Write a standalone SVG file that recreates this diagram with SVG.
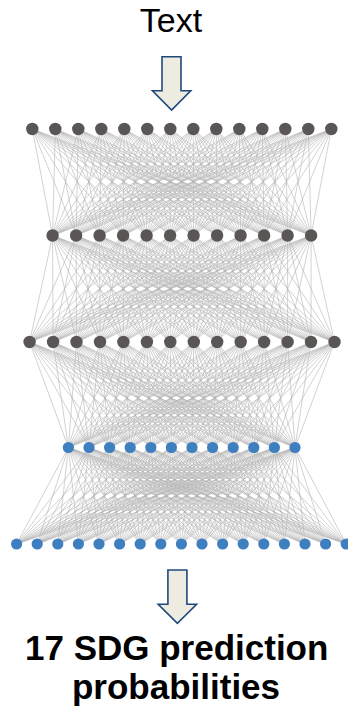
<svg xmlns="http://www.w3.org/2000/svg" width="348" height="710" viewBox="0 0 348 710">
<style>
.e{fill:none;stroke:#b4b4b4;stroke-width:0.6;stroke-linejoin:round;vector-effect:non-scaling-stroke}
.g{fill:#5a5656}
.b{fill:#3e7fc0}
.arr{fill:#eeece1;stroke:#1f497d;stroke-width:1.6;stroke-linejoin:miter}
.t{font-family:"Liberation Sans",Arial,sans-serif;fill:#000;text-anchor:middle}
</style>
<rect width="348" height="710" fill="#fff"/>
<text class="t" x="171" y="31.7" font-size="34">Text</text>
<polygon class="arr" points="162,56.7 181,56.7 181,90.7 190.7,90.7 171.6,110 152.5,90.7 162,90.7"/>
<g id="connectors">
<path class="e" transform="translate(0,129) scale(1,106.5)" d="M32.3 0L52.6 1 55.3 0 76.1 1 32.3 0 99.6 1 55.3 0 123.1 1 32.3 0 146.6 1 55.3 0 170.1 1 32.3 0 193.6 1 55.3 0 217.1 1 32.3 0 240.6 1 55.3 0 264.1 1 32.3 0 287.6 1 55.3 0 311.1 1 32.3 0
M78.3 0L52.6 1 101.3 0 76.1 1 78.3 0 99.6 1 101.3 0 123.1 1 78.3 0 146.6 1 101.3 0 170.1 1 78.3 0 193.6 1 101.3 0 217.1 1 78.3 0 240.6 1 101.3 0 264.1 1 78.3 0 287.6 1 101.3 0 311.1 1 78.3 0
M124.3 0L52.6 1 147.3 0 76.1 1 124.3 0 99.6 1 147.3 0 123.1 1 124.3 0 146.6 1 147.3 0 170.1 1 124.3 0 193.6 1 147.3 0 217.1 1 124.3 0 240.6 1 147.3 0 264.1 1 124.3 0 287.6 1 147.3 0 311.1 1 124.3 0
M170.3 0L52.6 1 193.3 0 76.1 1 170.3 0 99.6 1 193.3 0 123.1 1 170.3 0 146.6 1 193.3 0 170.1 1 170.3 0 193.6 1 193.3 0 217.1 1 170.3 0 240.6 1 193.3 0 264.1 1 170.3 0 287.6 1 193.3 0 311.1 1 170.3 0
M216.3 0L52.6 1 239.3 0 76.1 1 216.3 0 99.6 1 239.3 0 123.1 1 216.3 0 146.6 1 239.3 0 170.1 1 216.3 0 193.6 1 239.3 0 217.1 1 216.3 0 240.6 1 239.3 0 264.1 1 216.3 0 287.6 1 239.3 0 311.1 1 216.3 0
M262.3 0L52.6 1 285.3 0 76.1 1 262.3 0 99.6 1 285.3 0 123.1 1 262.3 0 146.6 1 285.3 0 170.1 1 262.3 0 193.6 1 285.3 0 217.1 1 262.3 0 240.6 1 285.3 0 264.1 1 262.3 0 287.6 1 285.3 0 311.1 1 262.3 0
M308.3 0L52.6 1 331.3 0 76.1 1 308.3 0 99.6 1 331.3 0 123.1 1 308.3 0 146.6 1 331.3 0 170.1 1 308.3 0 193.6 1 331.3 0 217.1 1 308.3 0 240.6 1 331.3 0 264.1 1 308.3 0 287.6 1 331.3 0 311.1 1 308.3 0"/>
<path class="e" transform="translate(0,235.5) scale(1,106.5)" d="M52.6 0L29.6 1 76.1 0 53.1 1 52.6 0 76.5 1 76.1 0 100 1 52.6 0 123.4 1 76.1 0 146.9 1 52.6 0 170.3 1 76.1 0 193.8 1 52.6 0 217.2 1 76.1 0 240.7 1 52.6 0 264.1 1 76.1 0 287.6 1 52.6 0 311 1 76.1 0 334.5 1 52.6 0
M99.6 0L29.6 1 123.1 0 53.1 1 99.6 0 76.5 1 123.1 0 100 1 99.6 0 123.4 1 123.1 0 146.9 1 99.6 0 170.3 1 123.1 0 193.8 1 99.6 0 217.2 1 123.1 0 240.7 1 99.6 0 264.1 1 123.1 0 287.6 1 99.6 0 311 1 123.1 0 334.5 1 99.6 0
M146.6 0L29.6 1 170.1 0 53.1 1 146.6 0 76.5 1 170.1 0 100 1 146.6 0 123.4 1 170.1 0 146.9 1 146.6 0 170.3 1 170.1 0 193.8 1 146.6 0 217.2 1 170.1 0 240.7 1 146.6 0 264.1 1 170.1 0 287.6 1 146.6 0 311 1 170.1 0 334.5 1 146.6 0
M193.6 0L29.6 1 217.1 0 53.1 1 193.6 0 76.5 1 217.1 0 100 1 193.6 0 123.4 1 217.1 0 146.9 1 193.6 0 170.3 1 217.1 0 193.8 1 193.6 0 217.2 1 217.1 0 240.7 1 193.6 0 264.1 1 217.1 0 287.6 1 193.6 0 311 1 217.1 0 334.5 1 193.6 0
M240.6 0L29.6 1 264.1 0 53.1 1 240.6 0 76.5 1 264.1 0 100 1 240.6 0 123.4 1 264.1 0 146.9 1 240.6 0 170.3 1 264.1 0 193.8 1 240.6 0 217.2 1 264.1 0 240.7 1 240.6 0 264.1 1 264.1 0 287.6 1 240.6 0 311 1 264.1 0 334.5 1 240.6 0
M287.6 0L29.6 1 311.1 0 53.1 1 287.6 0 76.5 1 311.1 0 100 1 287.6 0 123.4 1 311.1 0 146.9 1 287.6 0 170.3 1 311.1 0 193.8 1 287.6 0 217.2 1 311.1 0 240.7 1 287.6 0 264.1 1 311.1 0 287.6 1 287.6 0 311 1 311.1 0 334.5 1 287.6 0"/>
<path class="e" transform="translate(0,342) scale(1,105.5)" d="M29.6 0L68.4 1 53.1 0 89 1 29.6 0 109.6 1 53.1 0 130.2 1 29.6 0 150.8 1 53.1 0 171.4 1 29.6 0 192 1 53.1 0 212.6 1 29.6 0 233.2 1 53.1 0 253.8 1 29.6 0 274.4 1 53.1 0 295 1 29.6 0
M76.5 0L68.4 1 100 0 89 1 76.5 0 109.6 1 100 0 130.2 1 76.5 0 150.8 1 100 0 171.4 1 76.5 0 192 1 100 0 212.6 1 76.5 0 233.2 1 100 0 253.8 1 76.5 0 274.4 1 100 0 295 1 76.5 0
M123.4 0L68.4 1 146.9 0 89 1 123.4 0 109.6 1 146.9 0 130.2 1 123.4 0 150.8 1 146.9 0 171.4 1 123.4 0 192 1 146.9 0 212.6 1 123.4 0 233.2 1 146.9 0 253.8 1 123.4 0 274.4 1 146.9 0 295 1 123.4 0
M170.3 0L68.4 1 193.8 0 89 1 170.3 0 109.6 1 193.8 0 130.2 1 170.3 0 150.8 1 193.8 0 171.4 1 170.3 0 192 1 193.8 0 212.6 1 170.3 0 233.2 1 193.8 0 253.8 1 170.3 0 274.4 1 193.8 0 295 1 170.3 0
M217.2 0L68.4 1 240.7 0 89 1 217.2 0 109.6 1 240.7 0 130.2 1 217.2 0 150.8 1 240.7 0 171.4 1 217.2 0 192 1 240.7 0 212.6 1 217.2 0 233.2 1 240.7 0 253.8 1 217.2 0 274.4 1 240.7 0 295 1 217.2 0
M264.1 0L68.4 1 287.6 0 89 1 264.1 0 109.6 1 287.6 0 130.2 1 264.1 0 150.8 1 287.6 0 171.4 1 264.1 0 192 1 287.6 0 212.6 1 264.1 0 233.2 1 287.6 0 253.8 1 264.1 0 274.4 1 287.6 0 295 1 264.1 0
M311 0L68.4 1 334.5 0 89 1 311 0 109.6 1 334.5 0 130.2 1 311 0 150.8 1 334.5 0 171.4 1 311 0 192 1 334.5 0 212.6 1 311 0 233.2 1 334.5 0 253.8 1 311 0 274.4 1 334.5 0 295 1 311 0"/>
<path class="e" transform="translate(0,447.5) scale(1,96.5)" d="M68.4 0L16.6 1 89 0 37.2 1 68.4 0 57.8 1 89 0 78.4 1 68.4 0 99 1 89 0 119.6 1 68.4 0 140.2 1 89 0 160.8 1 68.4 0 181.4 1 89 0 202 1 68.4 0 222.6 1 89 0 243.2 1 68.4 0 263.8 1 89 0 284.4 1 68.4 0 305 1 89 0 325.6 1 68.4 0 346.2 1 89 0
M109.6 0L16.6 1 130.2 0 37.2 1 109.6 0 57.8 1 130.2 0 78.4 1 109.6 0 99 1 130.2 0 119.6 1 109.6 0 140.2 1 130.2 0 160.8 1 109.6 0 181.4 1 130.2 0 202 1 109.6 0 222.6 1 130.2 0 243.2 1 109.6 0 263.8 1 130.2 0 284.4 1 109.6 0 305 1 130.2 0 325.6 1 109.6 0 346.2 1 130.2 0
M150.8 0L16.6 1 171.4 0 37.2 1 150.8 0 57.8 1 171.4 0 78.4 1 150.8 0 99 1 171.4 0 119.6 1 150.8 0 140.2 1 171.4 0 160.8 1 150.8 0 181.4 1 171.4 0 202 1 150.8 0 222.6 1 171.4 0 243.2 1 150.8 0 263.8 1 171.4 0 284.4 1 150.8 0 305 1 171.4 0 325.6 1 150.8 0 346.2 1 171.4 0
M192 0L16.6 1 212.6 0 37.2 1 192 0 57.8 1 212.6 0 78.4 1 192 0 99 1 212.6 0 119.6 1 192 0 140.2 1 212.6 0 160.8 1 192 0 181.4 1 212.6 0 202 1 192 0 222.6 1 212.6 0 243.2 1 192 0 263.8 1 212.6 0 284.4 1 192 0 305 1 212.6 0 325.6 1 192 0 346.2 1 212.6 0
M233.2 0L16.6 1 253.8 0 37.2 1 233.2 0 57.8 1 253.8 0 78.4 1 233.2 0 99 1 253.8 0 119.6 1 233.2 0 140.2 1 253.8 0 160.8 1 233.2 0 181.4 1 253.8 0 202 1 233.2 0 222.6 1 253.8 0 243.2 1 233.2 0 263.8 1 253.8 0 284.4 1 233.2 0 305 1 253.8 0 325.6 1 233.2 0 346.2 1 253.8 0
M274.4 0L16.6 1 295 0 37.2 1 274.4 0 57.8 1 295 0 78.4 1 274.4 0 99 1 295 0 119.6 1 274.4 0 140.2 1 295 0 160.8 1 274.4 0 181.4 1 295 0 202 1 274.4 0 222.6 1 295 0 243.2 1 274.4 0 263.8 1 295 0 284.4 1 274.4 0 305 1 295 0 325.6 1 274.4 0 346.2 1 295 0"/>
</g>
<g id="layer1">
<g id="n1_1"><circle class="g" cx="32.3" cy="129" r="6.2"/></g>
<g id="n1_2"><circle class="g" cx="55.3" cy="129" r="6.2"/></g>
<g id="n1_3"><circle class="g" cx="78.3" cy="129" r="6.2"/></g>
<g id="n1_4"><circle class="g" cx="101.3" cy="129" r="6.2"/></g>
<g id="n1_5"><circle class="g" cx="124.3" cy="129" r="6.2"/></g>
<g id="n1_6"><circle class="g" cx="147.3" cy="129" r="6.2"/></g>
<g id="n1_7"><circle class="g" cx="170.3" cy="129" r="6.2"/></g>
<g id="n1_8"><circle class="g" cx="193.3" cy="129" r="6.2"/></g>
<g id="n1_9"><circle class="g" cx="216.3" cy="129" r="6.2"/></g>
<g id="n1_10"><circle class="g" cx="239.3" cy="129" r="6.2"/></g>
<g id="n1_11"><circle class="g" cx="262.3" cy="129" r="6.2"/></g>
<g id="n1_12"><circle class="g" cx="285.3" cy="129" r="6.2"/></g>
<g id="n1_13"><circle class="g" cx="308.3" cy="129" r="6.2"/></g>
<g id="n1_14"><circle class="g" cx="331.3" cy="129" r="6.2"/></g>
</g>
<g id="layer2">
<g id="n2_1"><circle class="g" cx="52.6" cy="235.5" r="6.2"/></g>
<g id="n2_2"><circle class="g" cx="76.1" cy="235.5" r="6.2"/></g>
<g id="n2_3"><circle class="g" cx="99.6" cy="235.5" r="6.2"/></g>
<g id="n2_4"><circle class="g" cx="123.1" cy="235.5" r="6.2"/></g>
<g id="n2_5"><circle class="g" cx="146.6" cy="235.5" r="6.2"/></g>
<g id="n2_6"><circle class="g" cx="170.1" cy="235.5" r="6.2"/></g>
<g id="n2_7"><circle class="g" cx="193.6" cy="235.5" r="6.2"/></g>
<g id="n2_8"><circle class="g" cx="217.1" cy="235.5" r="6.2"/></g>
<g id="n2_9"><circle class="g" cx="240.6" cy="235.5" r="6.2"/></g>
<g id="n2_10"><circle class="g" cx="264.1" cy="235.5" r="6.2"/></g>
<g id="n2_11"><circle class="g" cx="287.6" cy="235.5" r="6.2"/></g>
<g id="n2_12"><circle class="g" cx="311.1" cy="235.5" r="6.2"/></g>
</g>
<g id="layer3">
<g id="n3_1"><circle class="g" cx="29.6" cy="342" r="6.2"/></g>
<g id="n3_2"><circle class="g" cx="53.1" cy="342" r="6.2"/></g>
<g id="n3_3"><circle class="g" cx="76.5" cy="342" r="6.2"/></g>
<g id="n3_4"><circle class="g" cx="100" cy="342" r="6.2"/></g>
<g id="n3_5"><circle class="g" cx="123.4" cy="342" r="6.2"/></g>
<g id="n3_6"><circle class="g" cx="146.9" cy="342" r="6.2"/></g>
<g id="n3_7"><circle class="g" cx="170.3" cy="342" r="6.2"/></g>
<g id="n3_8"><circle class="g" cx="193.8" cy="342" r="6.2"/></g>
<g id="n3_9"><circle class="g" cx="217.2" cy="342" r="6.2"/></g>
<g id="n3_10"><circle class="g" cx="240.7" cy="342" r="6.2"/></g>
<g id="n3_11"><circle class="g" cx="264.1" cy="342" r="6.2"/></g>
<g id="n3_12"><circle class="g" cx="287.6" cy="342" r="6.2"/></g>
<g id="n3_13"><circle class="g" cx="311" cy="342" r="6.2"/></g>
<g id="n3_14"><circle class="g" cx="334.5" cy="342" r="6.2"/></g>
</g>
<g id="layer4">
<g id="n4_1"><circle class="b" cx="68.4" cy="447.5" r="5.6"/></g>
<g id="n4_2"><circle class="b" cx="89" cy="447.5" r="5.6"/></g>
<g id="n4_3"><circle class="b" cx="109.6" cy="447.5" r="5.6"/></g>
<g id="n4_4"><circle class="b" cx="130.2" cy="447.5" r="5.6"/></g>
<g id="n4_5"><circle class="b" cx="150.8" cy="447.5" r="5.6"/></g>
<g id="n4_6"><circle class="b" cx="171.4" cy="447.5" r="5.6"/></g>
<g id="n4_7"><circle class="b" cx="192" cy="447.5" r="5.6"/></g>
<g id="n4_8"><circle class="b" cx="212.6" cy="447.5" r="5.6"/></g>
<g id="n4_9"><circle class="b" cx="233.2" cy="447.5" r="5.6"/></g>
<g id="n4_10"><circle class="b" cx="253.8" cy="447.5" r="5.6"/></g>
<g id="n4_11"><circle class="b" cx="274.4" cy="447.5" r="5.6"/></g>
<g id="n4_12"><circle class="b" cx="295" cy="447.5" r="5.6"/></g>
</g>
<g id="layer5">
<g id="n5_1"><circle class="b" cx="16.6" cy="544" r="5.6"/></g>
<g id="n5_2"><circle class="b" cx="37.2" cy="544" r="5.6"/></g>
<g id="n5_3"><circle class="b" cx="57.8" cy="544" r="5.6"/></g>
<g id="n5_4"><circle class="b" cx="78.4" cy="544" r="5.6"/></g>
<g id="n5_5"><circle class="b" cx="99" cy="544" r="5.6"/></g>
<g id="n5_6"><circle class="b" cx="119.6" cy="544" r="5.6"/></g>
<g id="n5_7"><circle class="b" cx="140.2" cy="544" r="5.6"/></g>
<g id="n5_8"><circle class="b" cx="160.8" cy="544" r="5.6"/></g>
<g id="n5_9"><circle class="b" cx="181.4" cy="544" r="5.6"/></g>
<g id="n5_10"><circle class="b" cx="202" cy="544" r="5.6"/></g>
<g id="n5_11"><circle class="b" cx="222.6" cy="544" r="5.6"/></g>
<g id="n5_12"><circle class="b" cx="243.2" cy="544" r="5.6"/></g>
<g id="n5_13"><circle class="b" cx="263.8" cy="544" r="5.6"/></g>
<g id="n5_14"><circle class="b" cx="284.4" cy="544" r="5.6"/></g>
<g id="n5_15"><circle class="b" cx="305" cy="544" r="5.6"/></g>
<g id="n5_16"><circle class="b" cx="325.6" cy="544" r="5.6"/></g>
<g id="n5_17"><circle class="b" cx="346.2" cy="544" r="5.6"/></g>
</g>
<polygon class="arr" points="167.9,570 186.9,570 186.9,604.3 196.6,604.3 177.4,623.3 158.2,604.3 167.9,604.3"/>
<text class="t" x="176.7" y="660" font-size="35" font-weight="bold">17 SDG prediction</text>
<text class="t" x="176" y="699" font-size="35" font-weight="bold">probabilities</text>
</svg>
